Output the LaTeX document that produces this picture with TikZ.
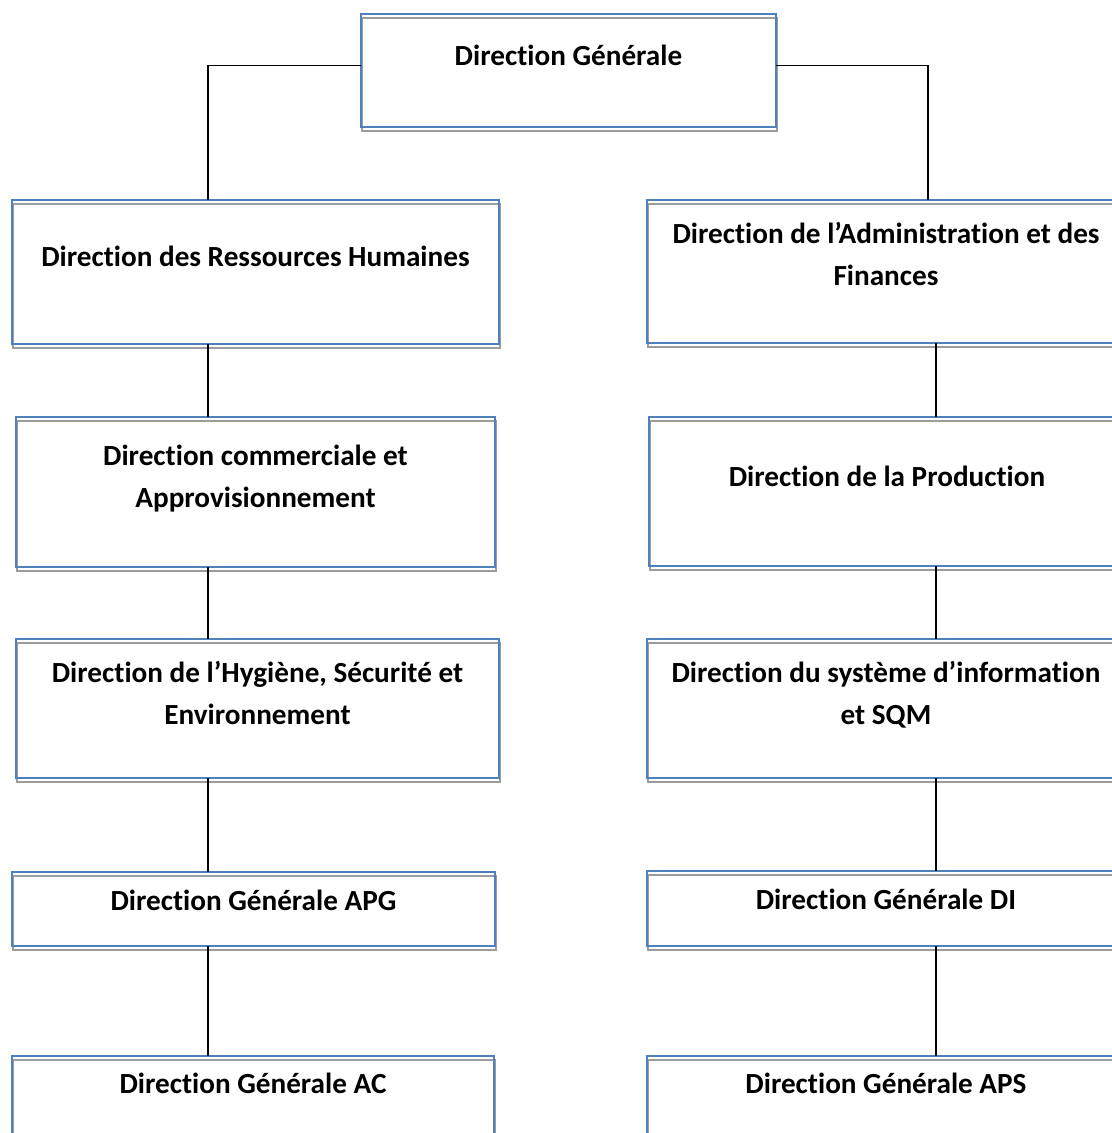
\documentclass[tikz,border=0pt]{standalone}
\usepackage{fontspec}
\setmainfont[Ligatures=NoCommon]{Carlito}
\definecolor{boxblue}{HTML}{4F81BD}
\definecolor{boxgrey}{HTML}{9C9C9C}
\tikzset{
  boxnode/.style={rectangle, fill=white, draw=none, inner sep=0pt, outer sep=0pt},
  boxline/.style={draw=boxblue, line width=1.5pt},
  shadowline/.style={draw=boxgrey, line width=1.5pt},
  boxlabel/.style={inner sep=0pt, anchor=base, font=\bfseries\fontsize{21.9}{31.5}\selectfont},
  link/.style={draw=black, line width=1pt},
}
% box: name, left, top, right, bottom (pixel units, y downwards)
\newcommand\orgbox[5]{%
  \node[boxnode, minimum width={(#4-#2)*0.75pt}, minimum height={(#5-#3)*0.75pt}] (#1) at ({(#2+#4)/2},{(#3+#5)/2}) {};
  \draw[shadowline] ([xshift=0.75pt,yshift=-3pt]#1.south west) rectangle ([xshift=0.75pt,yshift=-3pt]#1.north east);
  \draw[boxline] (#1.south west) rectangle (#1.north east);
}
% label: name, box, baseline of first line, text
\newcommand\orglabel[4]{%
  \node[boxlabel] (#1) at (#2.center |- 0,#3) {\parbox[t]{340pt}{\centering #4}};
}
\begin{document}
\begin{tikzpicture}[x=0.75pt,y=-0.75pt]
\useasboundingbox (0,0) rectangle (1112,1133);
\fill[white] (0,0) rectangle (1112,1133);
\clip (0,0) rectangle (1112,1133);

\coordinate (colL) at (208,0);
\coordinate (colRt) at (928,0);
\coordinate (colR) at (936,0);

% boxes
\orgbox{gen}{361}{14}{776}{127}
\orgbox{hr}{12}{200}{499}{344}
\orgbox{adm}{647}{200}{1125}{343}
\orgbox{com}{16}{417}{495}{567}
\orgbox{prod}{649}{417}{1125}{566}
\orgbox{hse}{16}{639}{499}{778}
\orgbox{si}{647}{639}{1125}{778}
\orgbox{apg}{12}{872}{495}{946}
\orgbox{di}{647}{871}{1125}{946}
\orgbox{ac}{12}{1056}{494}{1150}
\orgbox{aps}{647}{1056}{1125}{1150}

% labels
\orglabel{genT}{gen}{65}{Direction Générale}
\orglabel{hrT}{hr}{266}{Direction des Ressources Humaines}
\orglabel{admT}{adm}{243}{Direction de l’Administration et des\\Finances}
\orglabel{comT}{com}{465}{Direction commerciale et\\Approvisionnement}
\orglabel{prodT}{prod}{486}{Direction de la Production}
\orglabel{hseT}{hse}{682}{Direction de l’Hygiène, Sécurité et\\Environnement}
\orglabel{siT}{si}{682}{Direction du système d’information\\et SQM}
\orglabel{apgT}{apg}{910}{Direction Générale APG}
\orglabel{diT}{di}{909}{Direction Générale DI}
\orglabel{acT}{ac}{1093}{Direction Générale AC}
\orglabel{apsT}{aps}{1093}{Direction Générale APS}

% connectors
\draw[link] ([yshift=4pt]gen.west) -| (hr.north -| colL);
\draw[link] ([yshift=4pt]gen.east) -| (adm.north -| colRt);
\draw[link] (hr.south -| colL) -- (com.north -| colL);
\draw[link] (com.south -| colL) -- (hse.north -| colL);
\draw[link] (hse.south -| colL) -- (apg.north -| colL);
\draw[link] (apg.south -| colL) -- (ac.north -| colL);
\draw[link] (adm.south -| colR) -- (prod.north -| colR);
\draw[link] (prod.south -| colR) -- (si.north -| colR);
\draw[link] (si.south -| colR) -- (di.north -| colR);
\draw[link] (di.south -| colR) -- (aps.north -| colR);
\end{tikzpicture}
\end{document}
